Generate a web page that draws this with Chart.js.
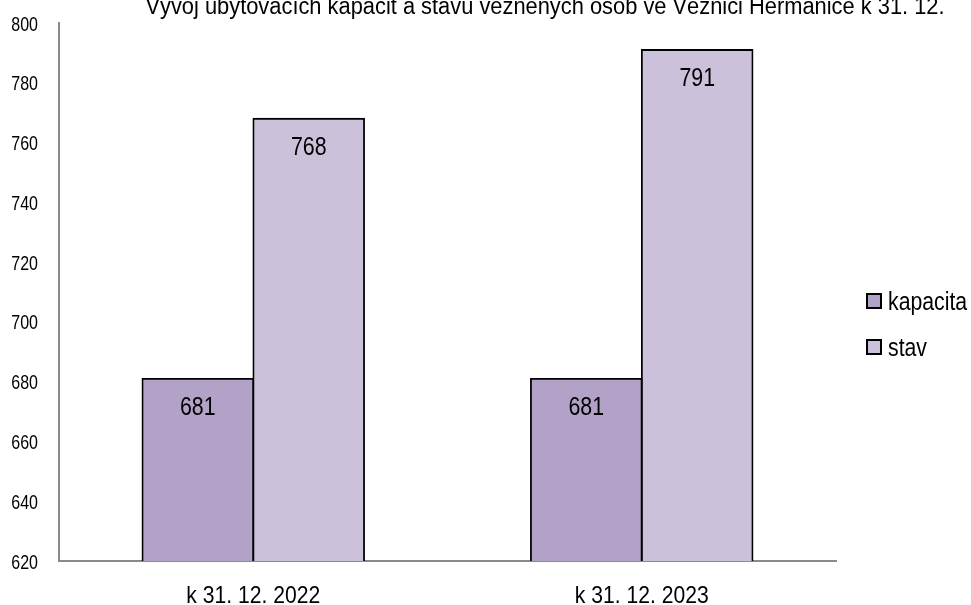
<!DOCTYPE html>
<html><head><meta charset="utf-8">
<script src="https://cdn.jsdelivr.net/npm/chart.js@4/dist/chart.umd.min.js"></script>
<style>html,body{margin:0;padding:0;background:#fff;overflow:hidden}#w{width:971px;height:605px;position:relative}</style>
</head><body><div id="w"><canvas id="c"></canvas></div>
<script>
const chartTitle = "Vývoj ubytovacích kapacit a stavu vězněných osob ve Věznici Heřmanice k 31. 12.";
const categories = ["k 31. 12. 2022", "k 31. 12. 2023"];
const seriesNames = ["kapacita", "stav"];
const kapacita = [681, 681];
const stav = [768, 791];
const yTicks = [620, 640, 660, 680, 700, 720, 740, 760, 780, 800];
const colors = ["#B3A2C7", "#CCC1DA"];
const FONT = "'Liberation Sans', Arial, sans-serif";

function narrowText(ctx, text, x, y, size, align, squish) {
  ctx.save();
  ctx.font = size + "px " + FONT;
  ctx.textBaseline = "alphabetic";
  const w = ctx.measureText(text).width * squish;
  let left = x;
  if (align === "center") left = x - w / 2;
  else if (align === "right") left = x - w;
  ctx.translate(left, y);
  ctx.scale(squish, 1);
  ctx.textAlign = "left";
  ctx.fillStyle = "#000";
  ctx.fillText(text, 0, 0);
  ctx.restore();
}

const overlay = {
  id: 'overlay',
  afterDatasetsDraw(chart) {
    const ctx = chart.ctx;
    const xs = chart.scales.x, ys = chart.scales.y;
    yTicks.forEach(v => narrowText(ctx, String(v), 38, ys.getPixelForValue(v) + 7.5, 20, "right", 0.8));
    categories.forEach((c, i) => narrowText(ctx, c, xs.getPixelForTick(i), 603, 24, "center", 0.88));
    chart.data.datasets.forEach((ds, i) => {
      chart.getDatasetMeta(i).data.forEach((bar, j) => {
        narrowText(ctx, String(ds.data[j]), bar.x, bar.y + 36, 26, "center", 0.82);
      });
    });
    narrowText(ctx, chartTitle, 545, 14, 23, "center", 0.95);
    const ly = [301, 347];
    seriesNames.forEach((n, i) => {
      ctx.save();
      ctx.fillStyle = colors[i];
      ctx.fillRect(867, ly[i] - 7, 14, 14);
      ctx.strokeStyle = "#000";
      ctx.lineWidth = 2;
      ctx.strokeRect(867, ly[i] - 7, 14, 14);
      ctx.restore();
      narrowText(ctx, n, 888, ly[i] + 9, 25, "left", 0.85);
    });
  }
};

new Chart(document.getElementById('c'), {
  type: 'bar',
  data: {
    labels: categories,
    datasets: [
      { label: seriesNames[0], data: kapacita, backgroundColor: colors[0], borderColor: "#000", borderWidth: 1.8, borderSkipped: 'bottom', inflateAmount: 0.8 },
      { label: seriesNames[1], data: stav, backgroundColor: colors[1], borderColor: "#000", borderWidth: 1.8, borderSkipped: 'bottom', inflateAmount: 0.8 }
    ]
  },
  options: {
    responsive: true,
    maintainAspectRatio: false,
    animation: false,
    layout: { padding: { top: 23, right: 135, left: 0, bottom: 0 } },
    plugins: { legend: { display: false }, title: { display: false }, tooltip: { enabled: false } },
    datasets: { bar: { categoryPercentage: 0.571, barPercentage: 1 } },
    scales: {
      x: {
        grid: { display: false, drawTicks: false },
        border: { color: "#8a8a8a", width: 2 },
        ticks: { display: false },
        afterFit(s) { s.height = 44; }
      },
      y: {
        min: 620, max: 800,
        grid: { display: false, drawTicks: false },
        border: { color: "#8a8a8a", width: 2 },
        afterBuildTicks(s) { s.ticks = yTicks.map(v => ({ value: v })); },
        ticks: { display: false },
        afterFit(s) { s.width = 59; }
      }
    }
  },
  plugins: [overlay]
});
</script></body></html>
